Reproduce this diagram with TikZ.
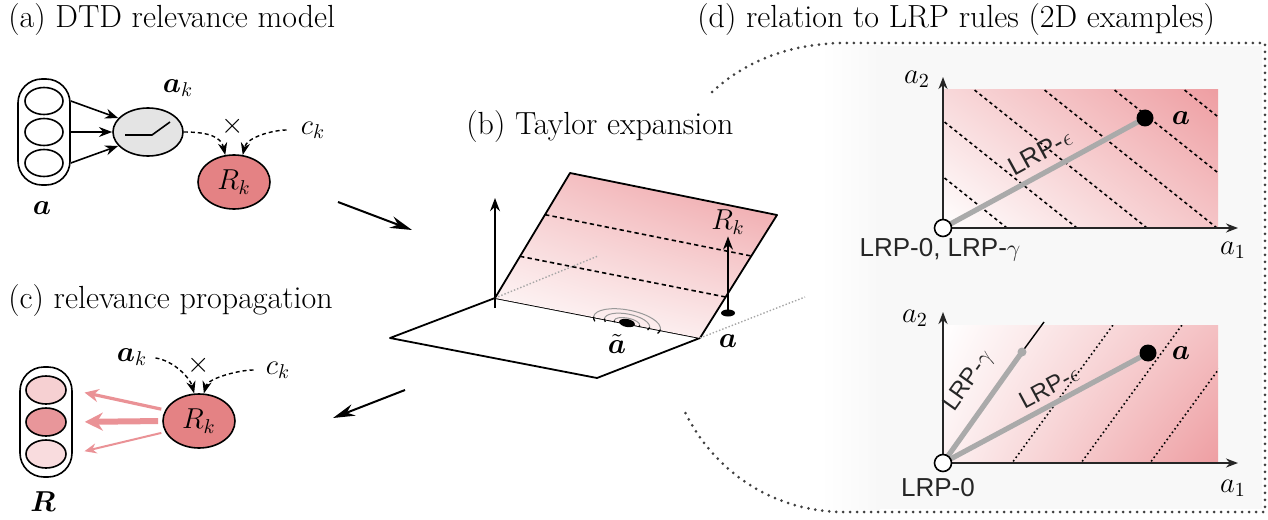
\documentclass[tikz,border=0pt]{standalone}
\usepackage{amsmath,amssymb}
\usepackage{bm}
\usepackage{fontspec}
\newfontfamily\lrpfont{Liberation Sans}
\usepackage{tikz}
\usetikzlibrary{shapes.geometric,arrows.meta,positioning,calc,shadings}

\definecolor{relred}{RGB}{228,130,132}
\definecolor{relpink}{RGB}{238,158,162}
\definecolor{neurongray}{RGB}{228,228,228}
\definecolor{arrowred}{RGB}{234,146,150}
\definecolor{unitlight}{RGB}{246,208,210}
\definecolor{unitmid}{RGB}{232,150,154}
\definecolor{unitpale}{RGB}{249,220,222}
\definecolor{lrpgray}{RGB}{170,170,170}
\definecolor{panelgray}{RGB}{248,248,248}

\begin{document}
\begin{tikzpicture}[
  x=0.5pt, y=-0.5pt,
  >=Stealth,
  title/.style={anchor=west, inner sep=0pt, font=\fontsize{16}{19}\selectfont},
  lbl/.style={inner sep=1pt, font=\fontsize{14}{16}\selectfont},
  unit/.style={draw, ellipse, line width=0.8pt, minimum width=19pt, minimum height=13.5pt, inner sep=0pt},
  column/.style={draw, rectangle, rounded corners=12pt, line width=0.8pt, minimum width=26pt, minimum height=53pt},
  neuron/.style={draw, ellipse, fill=neurongray, line width=0.8pt, minimum width=35pt, minimum height=24pt},
  relnode/.style={draw, ellipse, fill=relred, line width=0.8pt, minimum width=36pt, minimum height=27pt, inner sep=0pt, font=\fontsize{14}{16}\selectfont},
  arrow/.style={->, line width=0.8pt},
  dasharrow/.style={->, line width=0.7pt, dash pattern=on 2pt off 1.5pt},
  bigarrow/.style={-{Stealth[length=11pt,width=6pt]}, line width=1pt},
  redarrow/.style={draw=arrowred, shorten >=6pt, shorten <=2pt},
  plane/.style={line width=0.9pt, line join=round},
  taylorline/.style={line width=0.8pt, dash pattern=on 2.2pt off 1.6pt},
  hidden/.style={gray!70, line width=0.7pt, dash pattern=on 0.7pt off 1pt},
  contour/.style={gray!80, line width=0.5pt},
  axis/.style={-{Stealth[length=6pt,width=4.5pt]}, line width=1pt, black!85},
  lrpline/.style={line width=2.6pt, lrpgray},
  isoline/.style={line width=0.8pt, dash pattern=on 1.6pt off 1.6pt},
  isodot/.style={line width=0.8pt, dash pattern=on 0.8pt off 1.4pt},
  lrp/.style={inner sep=0.5pt, text=black!85, font=\lrpfont\fontsize{13}{15}\selectfont},
  dot/.style={circle, fill=black, minimum size=8.5pt, inner sep=0pt},
  origin/.style={circle, draw, fill=white, line width=0.8pt, minimum size=8.5pt, inner sep=0pt},
  panelframe/.style={line width=1.5pt, line cap=round, dash pattern=on 0pt off 3.5pt, black!75}
]
\useasboundingbox (0,0) rectangle (1268,519);

% TITLES
\node[title] (ttl-a) at (8,20)    {(a) DTD relevance model};
\node[title] (ttl-b) at (466,127) {(b) Taylor expansion};
\node[title] (ttl-c) at (8,301)   {(c) relevance propagation};
\node[title] (ttl-d) at (697,20)  {(d) relation to LRP rules (2D examples)};

% (a) DTD RELEVANCE MODEL
\node[column] (col-a) at (44,132) {};
\node[unit] (ua1) at (44,101) {};
\node[unit] (ua2) at (44,132) {};
\node[unit] (ua3) at (44,163) {};
\node[lbl] (lbl-a) at (42,208) {$\bm{a}$};

\node[neuron] (neuron) at (148,132) {};
\draw[line width=0.8pt] ($(neuron.center)+(-23,3)$) -- ($(neuron.center)+(4,3)$) -- ($(neuron.center)+(22,-10)$);
\node[lbl] (ak-a)    at (178,88)  {$\bm{a}_k$};
\node[relnode] (rk-a) at (234,182) {$R_k$};
\node[lbl] (times-a) at (233,126) {$\times$};
\node[lbl] (ck-a)    at (313,130) {$c_k$};

\draw[arrow] (ua1 -| col-a.east) -- (neuron.155);
\draw[arrow] (ua2 -| col-a.east) -- (neuron.180);
\draw[arrow] (ua3 -| col-a.east) -- (neuron.205);
\draw[dasharrow] (neuron.east) .. controls +(25,0) and +(-4,-18) .. (rk-a.108);
\draw[dasharrow, shorten <=6pt] (ck-a.west) .. controls +(-25,0) and +(4,-18) .. (rk-a.72);

% (c) RELEVANCE PROPAGATION
\node[column, minimum height=55pt] (col-c) at (46,422) {};
\node[unit, fill=unitlight, minimum width=20pt, minimum height=14pt] (uc1) at (46,390) {};
\node[unit, fill=unitmid,   minimum width=20pt, minimum height=14pt] (uc2) at (46,422) {};
\node[unit, fill=unitpale,  minimum width=20pt, minimum height=14pt] (uc3) at (46,454) {};
\node[lbl] (lbl-r) at (43,502) {$\bm{R}$};

\node[relnode] (rk-c) at (199,421) {$R_k$};
\node[lbl] (ak-c)    at (132,357) {$\bm{a}_k$};
\node[lbl] (times-c) at (199,365) {$\times$};
\node[lbl] (ck-c)    at (278,370) {$c_k$};

\draw[dasharrow, shorten <=3pt] (ak-c.east) .. controls +(25,4) and +(-4,-15) .. (rk-c.100);
\draw[dasharrow, shorten <=5pt] (ck-c.west) .. controls +(-25,0) and +(4,-15) .. (rk-c.80);
\draw[redarrow, line width=1.6pt, -{Stealth[length=7pt,width=6.5pt]}] (rk-c.162) -- (uc1 -| col-c.east);
\draw[redarrow, line width=3pt,   -{Stealth[length=9pt,width=9pt]}]   (rk-c.180) -- (uc2 -| col-c.east);
\draw[redarrow, line width=1pt,   -{Stealth[length=6pt,width=5pt]}]   (rk-c.198) -- (uc3 -| col-c.east);

% STEP ARROWS
\coordinate (ab-from) at (338,202);
\coordinate (ab-to)   at (412,230);
\coordinate (bc-from) at (405,390);
\coordinate (bc-to)   at (333,418);
\draw[bigarrow] (ab-from) -- (ab-to);
\draw[bigarrow] (bc-from) -- (bc-to);

% (b) TAYLOR EXPANSION
\coordinate (pl-left)  at (390,338);
\coordinate (pl-back)  at (495,298);
\coordinate (pl-right) at (700,338);
\coordinate (pl-front) at (597,378);
\coordinate (tl-top)   at (570,173);
\coordinate (tl-right) at (777,215);
\coordinate (hid-back)  at (598,256);
\coordinate (hid-right) at (805,297);
\coordinate (zax-foot) at (495,308);
\coordinate (zax-top)  at (495,198);
\coordinate (at-pos)   at (627,323);

\draw[plane, fill=white] (pl-left) -- (pl-back) -- (pl-right) -- (pl-front) -- cycle;
\shade[upper left=relpink!55!white, upper right=relpink, lower left=white, lower right=relpink!25!white]
  (pl-back) -- (tl-top) -- (tl-right) -- (pl-right) -- cycle;
\draw[plane] (pl-back) -- (tl-top) -- (tl-right) -- (pl-right);
\draw[taylorline] ($(pl-back)!1/3!(tl-top)$) -- ($(pl-right)!1/3!(tl-right)$);
\draw[taylorline] ($(pl-back)!2/3!(tl-top)$) -- ($(pl-right)!2/3!(tl-right)$);
\draw[hidden] (pl-back) -- (hid-back);
\draw[hidden] (pl-right) -- (hid-right);
\draw[arrow] (zax-foot) -- (zax-top);

\begin{scope}[rotate around={-11:(at-pos)}]
  \foreach \rx/\ry in {13/5,23/9,34/13}{
    \draw[contour] ($(at-pos)+(-\rx,0)$) arc[start angle=180, end angle=360, x radius=\rx, y radius=\ry];
    \draw[line width=0.6pt] ($(at-pos)+(-\rx,0)$) arc[start angle=180, end angle=160, x radius=\rx, y radius=\ry];
    \draw[line width=0.6pt] ($(at-pos)+(\rx,0)$) arc[start angle=0, end angle=20, x radius=\rx, y radius=\ry];
  }
\end{scope}
\node[ellipse, fill=black, minimum width=8pt, minimum height=4pt, inner sep=0pt, rotate=-11] (pt-at) at (at-pos) {};
\node[lbl] (lbl-at) at (617,344) {$\tilde{\bm{a}}$};

\node[ellipse, fill=black, minimum width=7pt, minimum height=3.5pt, inner sep=0pt] (pt-a) at (728,313) {};
\node[lbl] (rk-b)   at (728,222) {$R_k$};
\node[lbl] (lbl-ab) at (728,341) {$\bm{a}$};
\draw[arrow] (pt-a.center) -- (rk-b.south);

% (d) RELATION TO LRP RULES
\shade[left color=white, right color=panelgray] (820,46) rectangle (880,509);
\fill[panelgray] (879,46) rectangle (1262,509);
\draw[panelframe] (712,92) .. controls (745,62) and (785,45) .. (840,43) -- (1265,43) -- (1265,512)
  -- (840,512) .. controls (770,510) and (712,470) .. (683,408);

% top example
\coordinate (o1)     at (943,228);
\coordinate (y1-top) at (943,77);
\coordinate (x1-end) at (1238,228);
\coordinate (a1)     at (1145,118);
\shade[upper left=relpink!40!white, upper right=relpink, lower left=white, lower right=relpink!60!white]
  (943,90) rectangle (1218,228);
\begin{scope}
  \clip (943,90) rectangle (1218,228);
  \foreach \x in {1007,1077,1147,1217,1287,1357}
    \draw[isoline] (\x+40,260) -- (\x-260,20);
\end{scope}
\draw[axis] (o1) -- (y1-top);
\draw[axis] (o1) -- (x1-end);
\draw[lrpline] (o1) -- (a1);
\node[dot] (dot-a1) at (a1) {};
\node[origin] (orig1) at (o1) {};
\node[lbl] (lbl-a1) at (1181,118) {$\bm{a}$};
\node[lbl] (x1lbl)  at (1233,250) {$a_1$};
\node[lbl] (y1lbl)  at (917,79)   {$a_2$};
\node[lrp] (rules1) at (940,250)  {LRP-0, LRP-$\gamma$};
\node[lrp, rotate=28.6] (eps1) at (1040,152) {LRP-$\epsilon$};

% bottom example
\coordinate (o2)     at (943,463);
\coordinate (y2-top) at (943,312);
\coordinate (x2-end) at (1238,463);
\coordinate (g2)     at (1022,352);
\coordinate (g2-ext) at (1044,322);
\coordinate (a2)     at (1148,353);
\shade[upper left=white, upper right=relpink!65!white, lower left=relpink!15!white, lower right=relpink]
  (943,325) rectangle (1218,463);
\begin{scope}
  \clip (943,325) rectangle (1218,463);
  \foreach \x in {1012,1081,1150}
    \draw[isodot] (\x-30,504) -- (\x+150,258);
\end{scope}
\draw[axis] (o2) -- (y2-top);
\draw[axis] (o2) -- (x2-end);
\draw[lrpline] (o2) -- (g2);
\draw[line width=0.7pt] (g2) -- (g2-ext);
\draw[lrpline] (o2) -- (a2);
\node[circle, fill=lrpgray, minimum size=4.5pt, inner sep=0pt] (gdot) at (g2) {};
\node[dot] (dot-a2) at (a2) {};
\node[origin] (orig2) at (o2) {};
\node[lbl] (lbl-a2) at (1181,353) {$\bm{a}$};
\node[lbl] (x2lbl)  at (1233,488) {$a_1$};
\node[lbl] (y2lbl)  at (915,318)  {$a_2$};
\node[lrp] (rules2) at (938,488)  {LRP-0};
\node[lrp, rotate=54.6, font=\lrpfont\fontsize{12}{14}\selectfont] (gam2) at (969,381) {LRP-$\gamma$};
\node[lrp, rotate=28.2, font=\lrpfont\fontsize{12}{14}\selectfont] (eps2) at (1049,387) {LRP-$\epsilon$};
\end{tikzpicture}
\end{document}
